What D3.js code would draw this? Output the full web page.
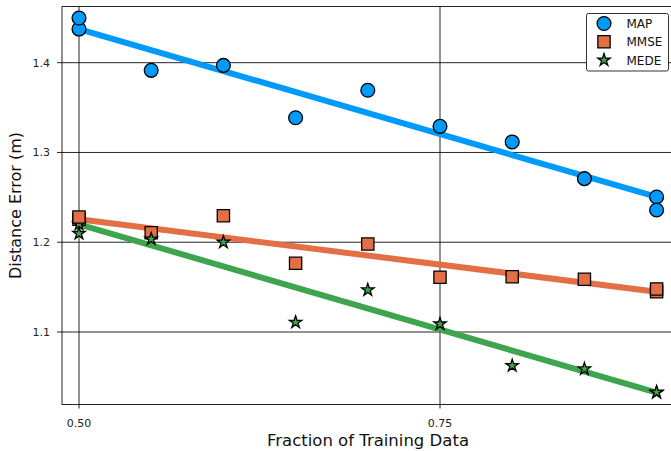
<!DOCTYPE html>
<html><head><meta charset="utf-8">
<script src="https://cdn.jsdelivr.net/npm/d3@7"></script>
<style>body{margin:0;background:#fff;} svg{display:block;font-family:"DejaVu Sans",sans-serif;}</style>
</head><body>
<svg id="c" width="671" height="451"></svg>
<script>
const fractions = [0.5, 0.55, 0.6, 0.65, 0.7, 0.75, 0.8, 0.85, 0.9];
const mapErr  = [1.4498, 1.3915, 1.397, 1.3387, 1.3693, 1.3291, 1.3117, 1.2708, 1.2359];
const mmseErr = [1.228, 1.2106, 1.2296, 1.1765, 1.198, 1.161, 1.1616, 1.1587, 1.148];
const medeErr = [1.2097, 1.2035, 1.2, 1.1108, 1.1468, 1.1089, 1.0625, 1.0588, 1.033];
const fitX = [0.5, 0.9];
const mapFit  = [1.4375, 1.2504];
const mmseFit = [1.2256, 1.1448];
const medeFit = [1.22, 1.0325];
const xTicks = [0.5, 0.75];
const yTicks = [1.1, 1.2, 1.3, 1.4];
const seriesNames = ["MAP", "MMSE", "MEDE"];
const seriesColors = ["#009AFA", "#E36F47", "#3EA44E"];
const seriesShapes = ["circle", "square", "star"];

const svg = d3.select("#c");
const L = 62, R = 674, T = 6.5, B = 404.5;
const x = d3.scaleLinear().domain([0.5, 0.75]).range([79, 440]);
const y = d3.scaleLinear().domain([1.1, 1.4]).range([332, 62.7]);

// grid
const g = svg.append("g");
g.selectAll(".gx").data(xTicks).join("line")
  .attr("x1", d => x(d)).attr("x2", d => x(d)).attr("y1", T).attr("y2", B + 4)
  .attr("stroke", "#000").attr("stroke-opacity", 0.85).attr("stroke-width", 1);
g.selectAll(".gy").data(yTicks).join("line")
  .attr("y1", d => y(d)).attr("y2", d => y(d)).attr("x1", L - 5).attr("x2", R)
  .attr("stroke", "#000").attr("stroke-opacity", 0.85).attr("stroke-width", 1);
// frame
svg.append("rect").attr("x", L).attr("y", T).attr("width", R - L).attr("height", B - T)
  .attr("fill", "none").attr("stroke", "#000").attr("stroke-opacity", 0.85).attr("stroke-width", 1);

// tick labels
svg.selectAll(".xl").data(xTicks).join("text")
  .attr("x", d => x(d)).attr("y", 427).attr("text-anchor", "middle")
  .attr("font-size", 11).attr("fill", "#222").text(d => d3.format(".2f")(d));
svg.selectAll(".yl").data(yTicks).join("text")
  .attr("x", 50).attr("y", d => y(d) + 4).attr("text-anchor", "end")
  .attr("font-size", 11).attr("fill", "#222").text(d => d3.format(".1f")(d));

// axis titles
svg.append("text").attr("x", 368).attr("y", 446).attr("text-anchor", "middle")
  .attr("font-size", 16.5).attr("fill", "#111").text("Fraction of Training Data");
svg.append("text").attr("transform", "translate(21,205.5) rotate(-90)").attr("text-anchor", "middle")
  .attr("font-size", 16).attr("fill", "#111").text("Distance Error (m)");

const symType = {circle: d3.symbolCircle, square: d3.symbolSquare, star: d3.symbolStar};
const symSize = {circle: 150, square: 150, star: 48};
function marker(sel, shape, color) {
  sel.append("path").attr("d", d3.symbol().type(symType[shape]).size(symSize[shape])())
    .attr("fill", color).attr("stroke", "#000").attr("stroke-width", 1.3);
}

const fits = [mapFit, mmseFit, medeFit];
const errs = [mapErr, mmseErr, medeErr];
const line = d3.line().x(d => x(d[0])).y(d => y(d[1]));

// fit lines
fits.forEach((f, i) => {
  svg.append("path").datum(fitX.map((fx, j) => [fx, f[j]]))
    .attr("d", line).attr("fill", "none").attr("stroke", seriesColors[i]).attr("stroke-width", 6);
});
// line endpoint markers and scatter
fits.forEach((f, i) => {
  fitX.forEach((fx, j) => {
    const m = svg.append("g").attr("transform", `translate(${x(fx)},${y(f[j])})`);
    marker(m, seriesShapes[i], seriesColors[i]);
  });
});
errs.forEach((e, i) => {
  e.forEach((v, j) => {
    const m = svg.append("g").attr("transform", `translate(${x(fractions[j])},${y(v)})`);
    marker(m, seriesShapes[i], seriesColors[i]);
  });
});

// legend
const lg = svg.append("g");
lg.append("rect").attr("x", 586.5).attr("y", 13.5).attr("width", 82).attr("height", 57.5)
  .attr("rx", 2).attr("fill", "#fff").attr("stroke", "#000").attr("stroke-opacity", 0.8).attr("stroke-width", 1);
seriesNames.forEach((n, i) => {
  const yy = 23.5 + i * 18.3;
  const m = lg.append("g").attr("transform", `translate(604,${yy})`);
  marker(m, seriesShapes[i], seriesColors[i]);
  lg.append("text").attr("x", 626.5).attr("y", yy + 4.5).attr("font-size", 12).attr("fill", "#111").text(n);
});
</script>
</body></html>
